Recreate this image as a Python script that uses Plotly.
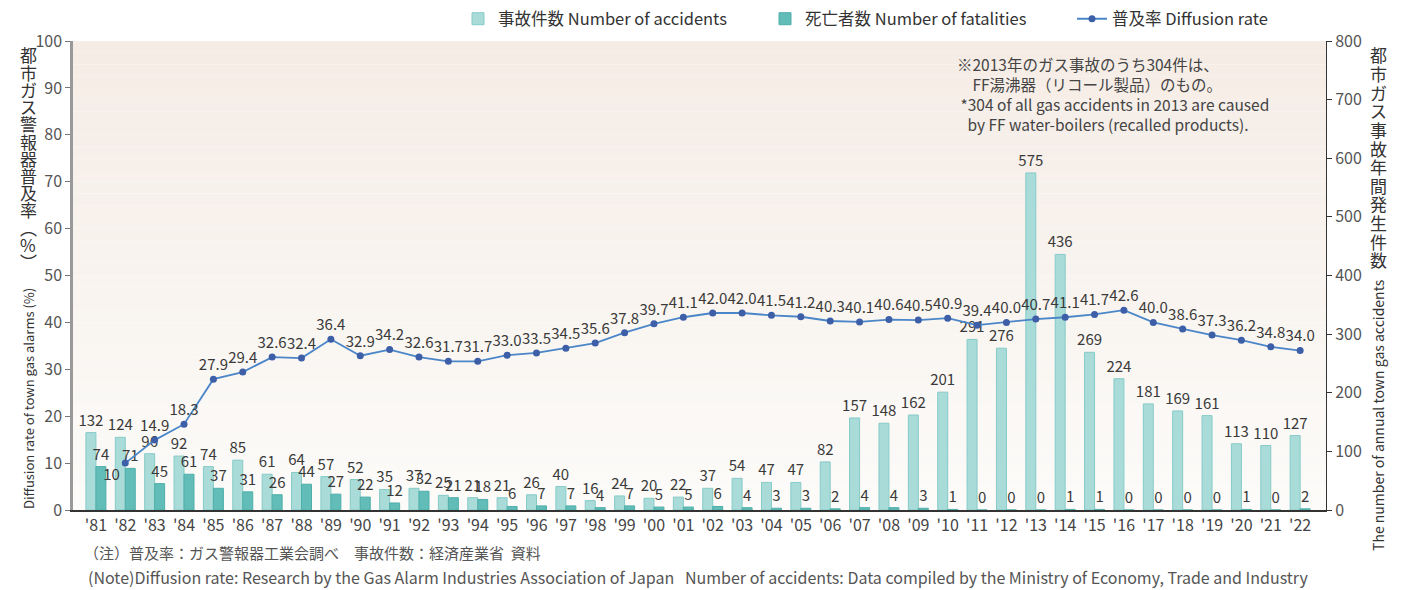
import plotly.graph_objects as go

years = ["'81", "'82", "'83", "'84", "'85", "'86", "'87", "'88", "'89", "'90",
         "'91", "'92", "'93", "'94", "'95", "'96", "'97", "'98", "'99", "'00",
         "'01", "'02", "'03", "'04", "'05", "'06", "'07", "'08", "'09", "'10",
         "'11", "'12", "'13", "'14", "'15", "'16", "'17", "'18", "'19", "'20",
         "'21", "'22"]

accidents = [132, 124, 96, 92, 74, 85, 61, 64, 57, 52,
             35, 37, 25, 21, 21, 26, 40, 16, 24, 20,
             22, 37, 54, 47, 47, 82, 157, 148, 162, 201,
             291, 276, 575, 436, 269, 224, 181, 169, 161, 113,
             110, 127]

fatalities = [74, 71, 45, 61, 37, 31, 26, 44, 27, 22,
              12, 32, 21, 18, 6, 7, 7, 4, 7, 5,
              5, 6, 4, 3, 3, 2, 4, 4, 3, 1,
              0, 0, 0, 1, 1, 0, 0, 0, 0, 1,
              0, 2]

diffusion_years = years[1:]
diffusion = [10, 14.9, 18.3, 27.9, 29.4, 32.6, 32.4, 36.4, 32.9, 34.2,
             32.6, 31.7, 31.7, 33.0, 33.5, 34.5, 35.6, 37.8, 39.7, 41.1,
             42.0, 42.0, 41.5, 41.2, 40.3, 40.1, 40.6, 40.5, 40.9, 39.4,
             40.0, 40.7, 41.1, 41.7, 42.6, 40.0, 38.6, 37.3, 36.2, 34.8,
             34.0]
diffusion_labels = ["10"] + [f"{v:.1f}" for v in diffusion[1:]]

FONT = "Noto Sans CJK JP, Noto Sans, sans-serif"

fig = go.Figure()

fig.add_trace(go.Bar(
    x=years, y=accidents, name="事故件数 Number of accidents",
    marker=dict(color="#a9dbd9", line=dict(color="#86cbc8", width=1)),
    text=[str(v) for v in accidents], textposition="outside",
    constraintext="none", cliponaxis=False,
    textfont=dict(size=15, color="#3a3a3a", family=FONT),
    yaxis="y",
))
fig.add_trace(go.Bar(
    x=years, y=fatalities, name="死亡者数 Number of fatalities",
    marker=dict(color="#62bcb7", line=dict(color="#4eafaa", width=1)),
    text=[str(v) for v in fatalities], textposition="outside",
    constraintext="none", cliponaxis=False,
    textfont=dict(size=15, color="#3a3a3a", family=FONT),
    yaxis="y",
))
positions = ["bottom left"] + ["top center"] * (len(diffusion) - 1)
fig.add_trace(go.Scatter(
    x=diffusion_years, y=diffusion, name="普及率 Diffusion rate",
    mode="lines+markers+text",
    line=dict(color="#4a86c8", width=1.8),
    marker=dict(color="#3d5fa8", size=7),
    text=diffusion_labels, textposition=positions,
    textfont=dict(size=15, color="#3a3a3a", family=FONT),
    cliponaxis=False,
    yaxis="y2",
))

# soft vertical background gradient
top = (245, 236, 229)
bot = (252, 251, 249)
n = 40
shapes = []
for i in range(n):
    t = i / (n - 1)
    c = tuple(round(top[k] + (bot[k] - top[k]) * t) for k in range(3))
    shapes.append(dict(type="rect", xref="x domain", yref="y domain",
                       x0=0, x1=1, y0=1 - (i + 1) / n, y1=1 - i / n,
                       fillcolor=f"rgb{c}", line=dict(width=0), layer="below"))

PW, PH = 1253, 469  # plot area size in px

annotations = []
# left vertical Japanese title
left_chars = list("都市ガス警報器普及率") + ["︵", "%", "︶"]
for i, ch in enumerate(left_chars):
    annotations.append(dict(text=ch, xref="paper", yref="paper",
                            x=-45 / PW, y=1 - (14 + i * 17.2) / PH,
                            xanchor="center", yanchor="middle", showarrow=False,
                            font=dict(size=17, color="#333", family=FONT)))
annotations.append(dict(text="Diffusion rate of town gas alarms (%)", textangle=-90,
                        xref="paper", yref="paper", x=-45 / PW, y=(510 - 399) / PH,
                        xanchor="center", yanchor="middle", showarrow=False,
                        font=dict(size=13, color="#333", family=FONT)))
# right vertical Japanese title
right_chars = list("都市ガス事故年間発生件数")
for i, ch in enumerate(right_chars):
    annotations.append(dict(text=ch, xref="paper", yref="paper",
                            x=(1378 - 73) / PW, y=1 - (14 + i * 18.6) / PH,
                            xanchor="center", yanchor="middle", showarrow=False,
                            font=dict(size=17, color="#333", family=FONT)))
annotations.append(dict(text="The number of annual town gas accidents", textangle=-90,
                        xref="paper", yref="paper", x=(1378 - 73) / PW,
                        y=(510 - 415) / PH,
                        xanchor="center", yanchor="middle", showarrow=False,
                        font=dict(size=14, color="#333", family=FONT)))
# note in plot
annotations.append(dict(
    text="※2013年のガス事故のうち304件は、<br>　FF湯沸器（リコール製品）のもの。<br>"
         " *304 of all gas accidents in 2013 are caused<br>"
         "   by FF water-boilers (recalled products).",
    xref="paper", yref="paper", x=(955 - 73) / PW, y=1 - 10 / PH,
    xanchor="left", yanchor="top", align="left", showarrow=False,
    font=dict(size=15.5, color="#444", family=FONT)))
# footnotes
annotations.append(dict(text="（注）普及率：ガス警報器工業会調べ　事故件数：経済産業省  資料",
                        xref="paper", yref="paper", x=(82 - 73) / PW,
                        y=-(552 - 510) / PH, xanchor="left", yanchor="middle",
                        showarrow=False, font=dict(size=15, color="#555", family=FONT)))
annotations.append(dict(text="(Note)Diffusion rate: Research by the Gas Alarm Industries Association of Japan   "
                             "Number of accidents: Data compiled by the Ministry of Economy, Trade and Industry",
                        xref="paper", yref="paper", x=(86 - 73) / PW,
                        y=-(577 - 510) / PH, xanchor="left", yanchor="middle",
                        showarrow=False, font=dict(size=16, color="#555", family=FONT)))

# page body has an 8px margin: size the figure so the plot area lands at x 73..1326, y 41..510
fig.update_layout(
    width=1415, height=582,
    margin=dict(l=65, r=97, t=33, b=80, autoexpand=False),
    paper_bgcolor="white", plot_bgcolor="white",
    font=dict(family=FONT, color="#444"),
    barmode="group", bargap=0.32, bargroupgap=0.0,
    showlegend=True,
    legend=dict(orientation="h", x=(458 - 73) / PW, y=(510 - 19) / PH,
                xanchor="left", yanchor="middle", entrywidth=262,
                font=dict(size=16.5, color="#333", family=FONT),
                bgcolor="rgba(0,0,0,0)", traceorder="normal"),
    xaxis=dict(type="category", range=[-0.78, 41.88], showgrid=False,
               showline=True, linecolor="#333", linewidth=1.5,
               ticks="", tickfont=dict(size=16, color="#444", family=FONT)),
    yaxis=dict(side="right", range=[0, 800], dtick=100, showgrid=False,
               showline=True, linecolor="#333", linewidth=1,
               ticks="outside", ticklen=5, tickcolor="#333",
               tickfont=dict(size=16, color="#555", family=FONT), zeroline=False),
    yaxis2=dict(side="left", overlaying="y", range=[0, 100], dtick=10, showgrid=False,
                showline=True, linecolor="#999", linewidth=2.5,
                ticks="outside", ticklen=5, tickcolor="#777",
                tickfont=dict(size=16, color="#555", family=FONT), zeroline=False),
    shapes=shapes,
    annotations=annotations,
)

fig.write_html("out.html")
